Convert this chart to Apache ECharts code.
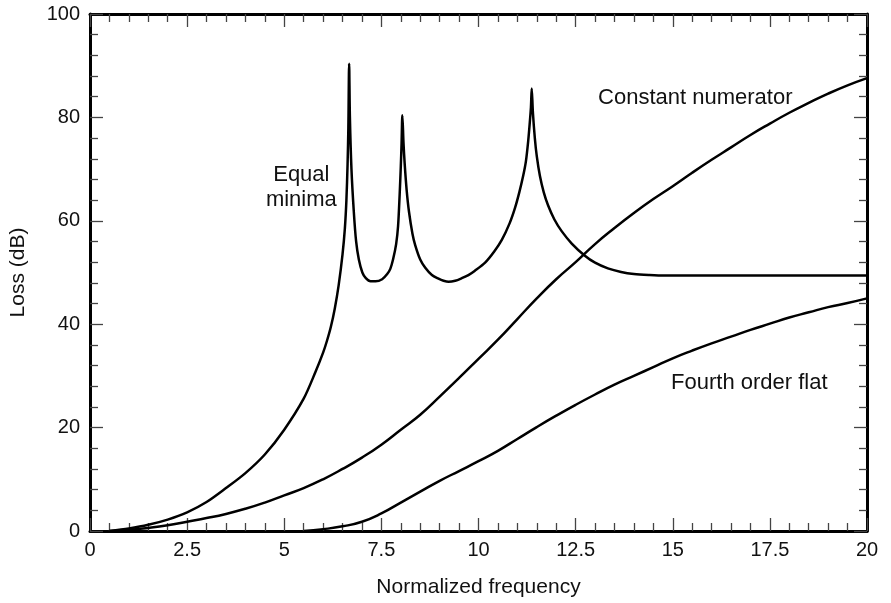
<!DOCTYPE html>
<html>
<head>
<meta charset="utf-8">
<script src="https://cdn.jsdelivr.net/npm/echarts@6/dist/echarts.min.js"></script>
<style>html,body{margin:0;padding:0;background:#fff}#c{width:891px;height:603px}</style>
</head>
<body>
<div id="c"></div>
<script>
// x ticks / y ticks
const xTicks = [0, 2.5, 5, 7.5, 10, 12.5, 15, 17.5, 20];
const yTicks = [0, 20, 40, 60, 80, 100];

// Equal minima [frequency, loss]
const equalMinima = [
  [0.5,0],[1,0.5],[1.5,1.2],[2,2.2],[2.5,3.6],[3,5.6],[3.5,8.3],[4,11.2],[4.5,14.8],[5,19.6],
  [5.5,25.6],[5.8,30.7],[6,34.5],[6.1,36.8],[6.2,39.5],[6.3,43],[6.4,47.5],[6.5,53.5],[6.56,58.5],[6.6,64],
  [6.63,71],[6.65,78],[6.67,90.4],[6.69,80],[6.73,70],[6.79,61.8],[6.85,56],[6.92,52.5],[7.01,50],
  [7.1,48.9],[7.22,48.3],[7.35,48.3],[7.52,48.7],[7.65,49.7],[7.73,50.7],[7.8,52.5],[7.88,55.5],
  [7.93,59],[7.97,65],[8.0,70.5],[8.02,75],[8.04,80.4],[8.07,75],[8.1,71],[8.15,66],[8.21,61.8],
  [8.3,57.5],[8.37,55.3],[8.5,52.5],[8.63,50.9],[8.8,49.5],[8.97,48.8],[9.1,48.4],[9.23,48.2],
  [9.4,48.4],[9.57,48.9],[9.74,49.5],[9.9,50.3],[10.17,51.9],[10.4,54],[10.6,56.3],[10.8,59.5],
  [10.94,62.5],[11.05,65.5],[11.15,68.7],[11.22,71.5],[11.28,75.5],[11.32,79],[11.35,82],[11.37,85.6],
  [11.4,81],[11.45,76],[11.5,72.5],[11.58,68.7],[11.68,65.5],[11.79,63],[11.95,60.3],[12.14,58],
  [12.4,55.6],[12.73,53.3],[13.0,51.9],[13.33,50.8],[13.67,50.1],[14.0,49.7],[14.4,49.5],[14.8,49.4],[20,49.4]
];

// Constant numerator
const constantNumerator = [
  [0.5,0],[1,0.25],[1.5,0.6],[2,1.1],[2.5,1.8],[3,2.5],[3.5,3.3],[4,4.3],[4.5,5.5],[5,6.9],
  [5.5,8.3],[6,10],[6.5,12],[7,14.2],[7.5,16.7],[8,19.6],[8.5,22.5],[9,26],[9.5,29.6],[10,33.3],
  [10.5,37],[11,41],[11.5,45],[12,48.7],[12.5,52],[13,55.5],[13.5,58.6],[14,61.5],[14.5,64.2],
  [15,66.7],[15.5,69.3],[16,71.8],[16.5,74.2],[17,76.6],[17.5,78.8],[18,80.9],[18.5,82.8],[19,84.6],
  [19.5,86.2],[20,87.6]
];

// Fourth order flat
const fourthOrderFlat = [
  [5.5,0],[6,0.35],[6.5,0.9],[7,1.8],[7.5,3.4],[8,5.5],[8.5,7.6],[9,9.7],[9.5,11.6],[10,13.5],
  [10.5,15.5],[11,17.8],[11.5,20.1],[12,22.3],[12.5,24.4],[13,26.4],[13.5,28.3],[14,30],[14.5,31.7],
  [15,33.4],[15.5,34.9],[16,36.3],[16.5,37.6],[17,38.9],[17.5,40.1],[18,41.3],[18.5,42.3],[19,43.3],
  [19.5,44.1],[20,45]
];

// Annotations [x, y, text]
const notes = [
  [5.44, 66.5, 'Equal\nminima'],
  [15.58, 83.8, 'Constant numerator'],
  [16.97, 28.6, 'Fourth order flat']
];

const FONT = '"Liberation Sans", Arial, Helvetica, sans-serif';
const txt = '#111';

function axisBase(extra) {
  return Object.assign({
    axisLine: {show: true, onZero: false, lineStyle: {color: '#000', width: 3}},
    axisTick: {show: true, inside: true, length: 13, lineStyle: {color: '#444', width: 1.3}},
    minorTick: {show: true, splitNumber: 5, length: 8, lineStyle: {color: '#444', width: 1.3}},
    splitLine: {show: false},
    minorSplitLine: {show: false}
  }, extra);
}

const chart = echarts.init(document.getElementById('c'), null, {renderer: 'canvas'});
const lineStyle = {color: '#000', width: 2.5};

chart.setOption({
  animation: false,
  backgroundColor: '#fff',
  textStyle: {fontFamily: FONT},
  grid: {left: 87, right: 24, top: 14, bottom: 59, containLabel: false},
  xAxis: [
    axisBase({
      type: 'value', position: 'bottom', min: xTicks[0], max: xTicks[xTicks.length - 1], interval: 2.5,
      name: 'Normalized frequency', nameLocation: 'middle', nameGap: 46,
      nameTextStyle: {fontSize: 21, color: txt, fontFamily: FONT},
      axisLabel: {fontSize: 20, color: txt, margin: 9, fontFamily: FONT}
    }),
    axisBase({
      type: 'value', position: 'top', min: xTicks[0], max: xTicks[xTicks.length - 1], interval: 2.5,
      axisLabel: {show: false}
    })
  ],
  yAxis: [
    axisBase({
      type: 'value', position: 'left', min: yTicks[0], max: yTicks[yTicks.length - 1], interval: 20,
      name: 'Loss (dB)', nameLocation: 'middle', nameGap: 61, nameRotate: 90,
      nameTextStyle: {fontSize: 21, color: txt, fontFamily: FONT},
      axisLabel: {fontSize: 20, color: txt, margin: 10, fontFamily: FONT}
    }),
    axisBase({
      type: 'value', position: 'right', min: yTicks[0], max: yTicks[yTicks.length - 1], interval: 20,
      axisLabel: {show: false}
    })
  ],
  series: [
    {
      type: 'line', name: 'Equal minima', data: equalMinima, showSymbol: false,
      smooth: 0.3,
      lineStyle: lineStyle, itemStyle: {color: '#000'}, z: 3,
      markPoint: {
        symbol: 'circle', symbolSize: 1, itemStyle: {color: 'rgba(0,0,0,0)'},
        label: {show: true, position: 'inside', fontSize: 22, lineHeight: 25, color: txt, fontFamily: FONT, align: 'center',
          formatter: p => p.data.text},
        data: notes.map(n => ({coord: [n[0], n[1]], text: n[2]}))
      }
    },
    {
      type: 'line', name: 'Constant numerator', data: constantNumerator, showSymbol: false, smooth: true,
      lineStyle: lineStyle, itemStyle: {color: '#000'}, z: 3
    },
    {
      type: 'line', name: 'Fourth order flat', data: fourthOrderFlat, showSymbol: false, smooth: true,
      lineStyle: lineStyle, itemStyle: {color: '#000'}, z: 3
    }
  ]
});
</script>
</body>
</html>
